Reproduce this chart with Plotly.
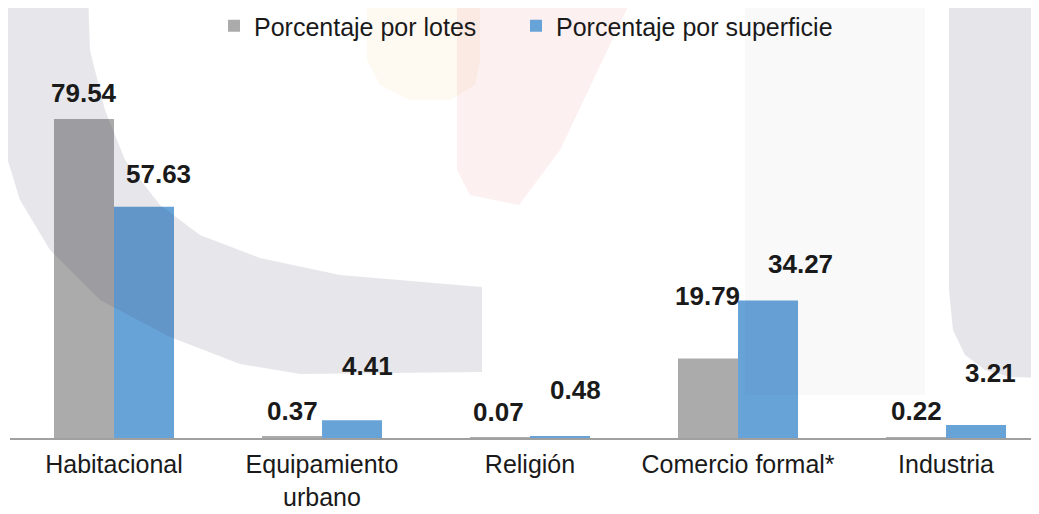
import plotly.graph_objects as go

# data
categorias = ["Habitacional", "Equipamiento<br>urbano", "Religión", "Comercio formal*", "Industria"]
pct_lotes = [79.54, 0.37, 0.07, 19.79, 0.22]
pct_superficie = [57.63, 4.41, 0.48, 34.27, 3.21]

# label placement (px) relative to each bar's top/center, like the original Excel labels
lotes_dx = [0, 0, -2, -1, 0]
lotes_dy = [26, 26, 26, 63, 26]
sup_dx = [14, 15, 15, 32, 14]
sup_dy = [33, 54, 46, 37, 52]

gris = "#ABABAB"
azul = "#68A3D8"
fuente = "Liberation Sans, Arial, sans-serif"

# page has an 8px body margin, so the figure is shifted; plot area spans x 10..1039, y 77..438 on screen
PL, PW, PB, PH = 10, 1029, 438, 361
FW, FH = 1031, 506


def ruta(puntos):
    s = ""
    for k, (X, Y) in enumerate(puntos):
        s += ("M" if k == 0 else "L") + "%.4f,%.4f " % ((X - PL) / PW, (PB - Y) / PH)
    return s + "Z"


# faint watermark behind the chart
marca = [
    # left gray arc band
    ([(0, -10), (88, -10), (90, 50), (105, 110), (125, 160), (160, 205), (200, 235), (260, 258),
      (340, 275), (482, 287), (482, 372), (300, 374), (240, 364), (170, 337), (100, 300),
      (50, 250), (20, 200), (0, 135)], "rgba(60,60,90,0.12)"),
    # right gray block
    ([(949, -10), (949, 290), (953, 330), (965, 355), (985, 370), (1010, 377), (1045, 378),
      (1045, -10)], "rgba(60,60,90,0.13)"),
    # light vertical panel
    ([(745, -10), (745, 395), (925, 395), (925, -10)], "rgba(60,60,90,0.03)"),
    # pale orange
    ([(367, -10), (367, 60), (380, 85), (410, 100), (450, 100), (475, 85), (480, 60), (480, -10)],
     "rgba(240,170,60,0.07)"),
    # pale pink
    ([(457, -10), (457, 170), (470, 195), (519, 205), (560, 150), (636, -10)],
     "rgba(220,60,70,0.08)"),
]

fig = go.Figure()
fig.add_trace(go.Bar(x=categorias, y=pct_lotes, name="Porcentaje por lotes", legend="legend",
                     marker=dict(color=gris, line=dict(width=0))))
fig.add_trace(go.Bar(x=categorias, y=pct_superficie, name="Porcentaje por superficie", legend="legend2",
                     marker=dict(color=azul, line=dict(width=0))))

for pts, col in marca:
    fig.add_shape(type="path", xref="paper", yref="paper", path=ruta(pts),
                  fillcolor=col, line=dict(width=0), layer="above")

# data labels
for i, c in enumerate(categorias):
    fig.add_annotation(x=c, y=pct_lotes[i], text="<b>%.2f</b>" % pct_lotes[i],
                       showarrow=False, xshift=-30 + lotes_dx[i], yshift=lotes_dy[i],
                       yanchor="middle", font=dict(size=26, color="#1a1a1a", family=fuente))
    fig.add_annotation(x=c, y=pct_superficie[i], text="<b>%.2f</b>" % pct_superficie[i],
                       showarrow=False, xshift=30 + sup_dx[i], yshift=sup_dy[i],
                       yanchor="middle", font=dict(size=26, color="#1a1a1a", family=fuente))

leg = dict(orientation="h", xref="container", yref="container", xanchor="left",
           y=1 - 18 / FH, yanchor="middle", font=dict(size=25), bgcolor="rgba(0,0,0,0)")

fig.update_layout(
    width=FW, height=FH,
    margin=dict(l=2, r=0, t=69, b=76, autoexpand=False),
    paper_bgcolor="white", plot_bgcolor="rgba(0,0,0,0)",
    barmode="group", bargap=0.423, bargroupgap=0,
    font=dict(family=fuente, size=25, color="#1a1a1a"),
    showlegend=True,
    legend=dict(leg, x=206 / FW),
    legend2=dict(leg, x=508 / FW),
)
fig.update_xaxes(range=[-0.5, 4.447], showline=True, linecolor="#A0A0A0", linewidth=2,
                 ticks="", showgrid=False, ticklabelstandoff=3, automargin=False,
                 tickfont=dict(size=25, color="#1a1a1a"))
fig.update_yaxes(range=[0, 90], visible=False, showgrid=False, zeroline=False, automargin=False)

fig.write_html("out.html")
